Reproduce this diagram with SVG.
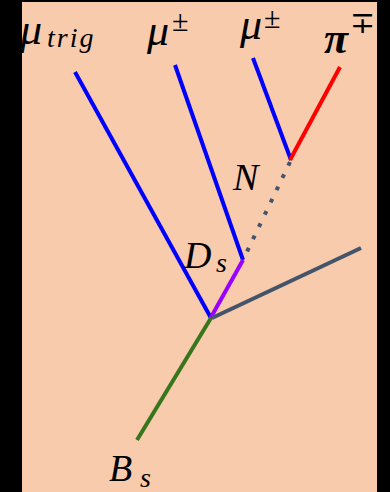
<svg xmlns="http://www.w3.org/2000/svg" width="390" height="492" viewBox="0 0 390 492">
<style>
.m{font-family:"Liberation Serif","DejaVu Serif",serif;font-style:italic;fill:#000}
.b{font-size:38px}
.g{font-size:44px}
.s{font-size:28px}
.u{font-family:"Liberation Serif","DejaVu Serif",serif;font-size:30px;fill:#000}
line{stroke-width:4;stroke-linecap:butt}
</style>
<rect x="0" y="0" width="390" height="492" fill="#000"/>
<rect x="22" y="2" width="355" height="490" fill="#F8CBAD"/>
<g id="connectors">
<line x1="75" y1="72" x2="211" y2="318" stroke="#0000FF"/>
<line x1="175" y1="65" x2="243" y2="260" stroke="#0000FF"/>
<line x1="253" y1="58" x2="291" y2="160" stroke="#0000FF"/>
<line x1="340" y1="67" x2="290" y2="160" stroke="#FF0000"/>
<line x1="290" y1="162" x2="243" y2="260" stroke="#44546A" stroke-dasharray="4 9.6"/>
<line x1="243" y1="260" x2="210" y2="319" stroke="#9900FF"/>
<line x1="212" y1="318" x2="361" y2="248" stroke="#44546A"/>
<line x1="211" y1="318" x2="137" y2="440" stroke="#38761D"/>
</g>
<g id="mu-trig"><text class="m g" x="20" y="44">μ</text><text class="m s" x="47" y="47" letter-spacing="2">trig</text></g>
<g id="mu-pm-1"><text class="m g" x="147" y="45">μ</text><text class="u" x="172" y="31">±</text></g>
<g id="mu-pm-2"><text class="m g" x="240" y="39">μ</text><text class="u" x="264" y="28">±</text></g>
<g id="pi-mp"><text class="m g" x="324" y="53" font-weight="bold">π</text><text class="u" x="350" y="33">∓</text></g>
<g id="N"><text class="m b" x="233" y="190">N</text></g>
<g id="Ds"><text class="m b" x="184" y="268">D</text><text class="m s" x="216" y="272">s</text></g>
<g id="Bs"><text class="m b" x="109" y="481">B</text><text class="m s" x="140" y="487">s</text></g>
</svg>
